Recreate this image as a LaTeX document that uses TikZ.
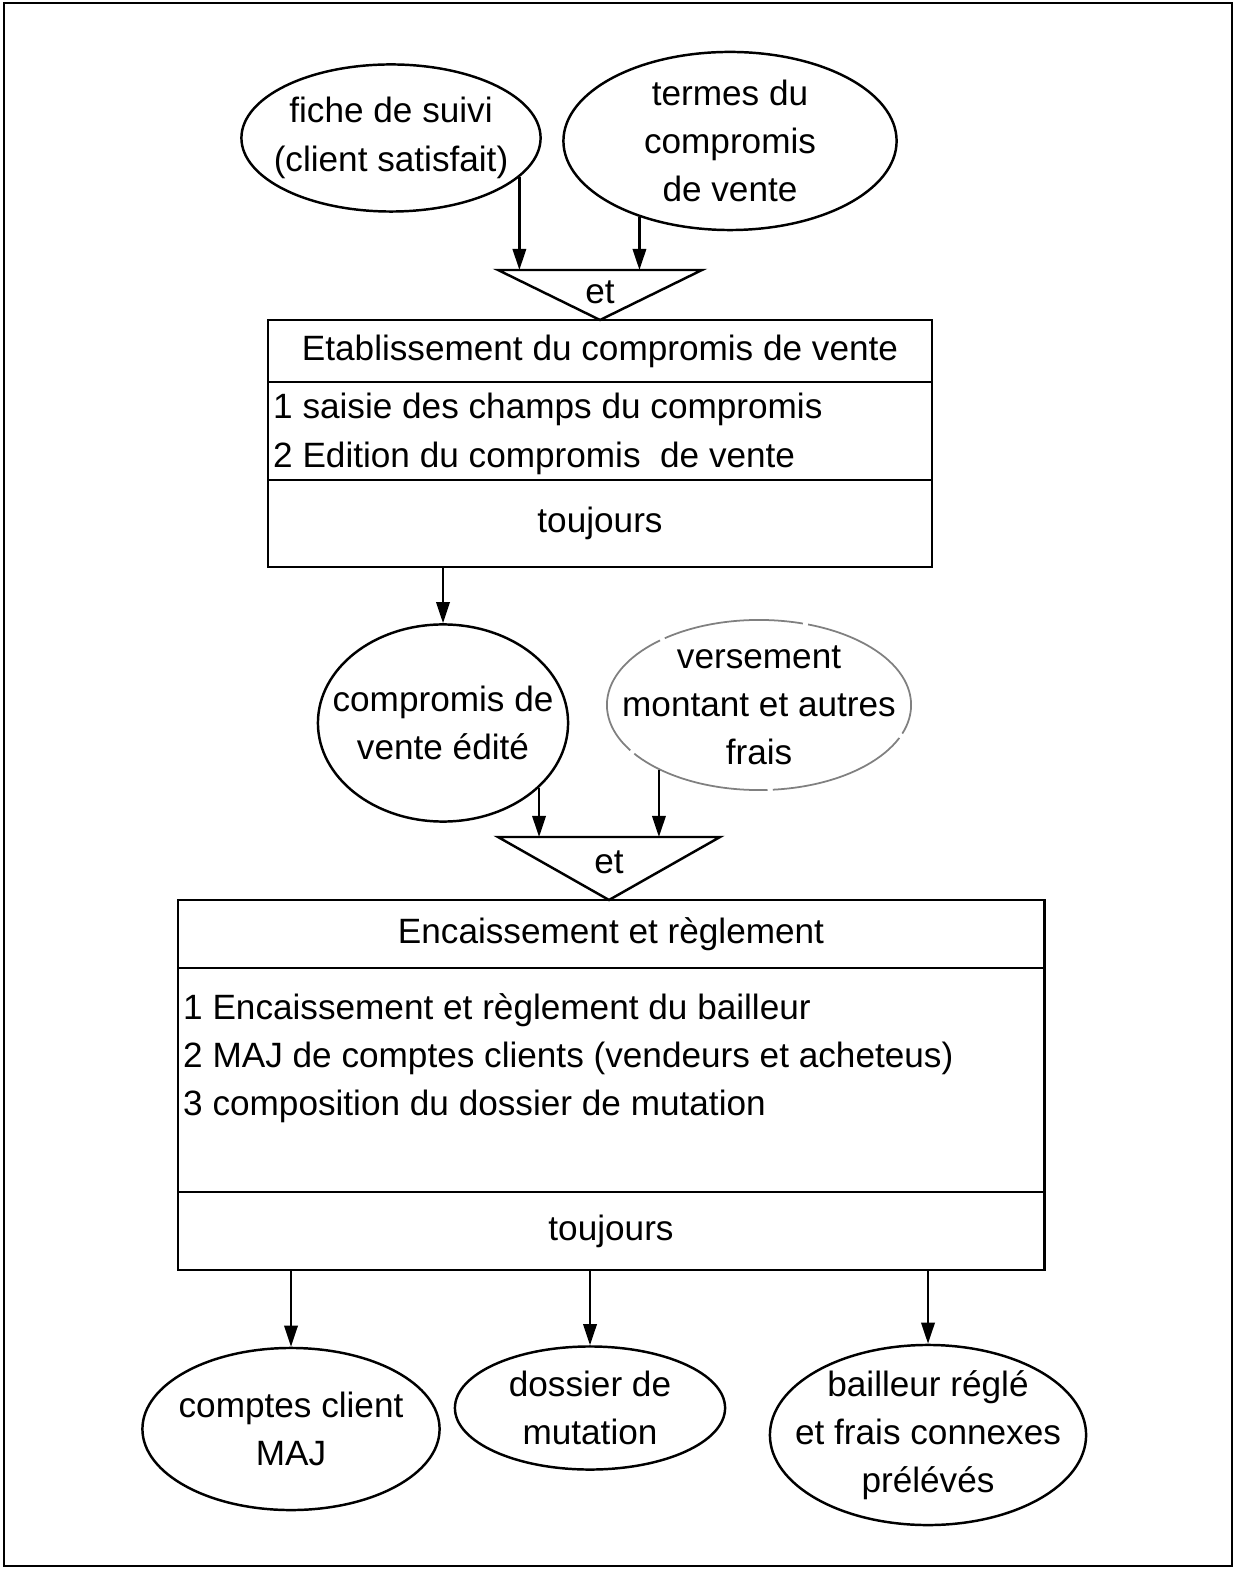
\documentclass[tikz,border=0pt]{standalone}
\usepackage{fontspec}
\setmainfont{Liberation Sans}
\usepackage{tikz}
\usetikzlibrary{shapes.geometric, arrows.meta, positioning}

\begin{document}
\begin{tikzpicture}[x=0.01cm, y=-0.01cm, line width=0.7pt,
    font=\fontsize{10}{13.7}\selectfont,
    data/.style={draw, ellipse, inner xsep=-0.3cm, inner ysep=-0.1cm, align=center},
    cell/.style={draw, rectangle, inner sep=0pt, outer sep=0pt},
    flow/.style={-{Triangle[length=6pt, width=3.8pt]}}]
  \useasboundingbox (0, 0) rectangle (1238, 1571);
  \draw (4, 3) rectangle (1232, 1566);

  % compromis de vente
  \node [data, minimum width=2.99cm, minimum height=1.47cm] (suivi) at (391, 138) {fiche de suivi\\(client satisfait)};
  \node [data, minimum width=3.33cm, minimum height=1.78cm] (termes) at (730, 141) {termes du\\compromis\\de vente};
  \coordinate (et1l) at (498, 270);
  \coordinate (et1r) at (702, 270);
  \coordinate (et1b) at (600, 320);
  \draw (et1l) -- (et1r) -- (et1b) -- cycle;
  \node (et1) at (600, 292) {et};
  \draw [flow] (suivi.-17) -- (suivi.-17 |- et1l);
  \draw [flow] (termes.-140) -- (termes.-140 |- et1l);

  \node [cell, minimum width=6.64cm, minimum height=0.62cm] (etab) at (600, 351) {Etablissement du compromis de vente};
  \node [cell, minimum width=6.64cm, minimum height=0.98cm, below=0pt of etab] (etabtasks) {};
  \node [anchor=west, inner sep=0pt, align=left] (etablist) at (272, 434) {1 saisie des champs du compromis\\2 Edition du compromis~ de vente};
  \node [cell, minimum width=6.64cm, minimum height=0.87cm, below=0pt of etabtasks] (etabrule) {toujours};

  % encaissement
  \node [data, minimum width=2.50cm, minimum height=1.97cm] (edite) at (443, 723) {compromis de\\vente édité};
  \node [data, draw=black!50, line width=0.5pt, dash pattern=on 40pt off 1.5pt, minimum width=3.04cm, minimum height=1.70cm] (versement) at (759, 705) {versement\\montant et autres\\frais};
  \draw [flow] (etabrule.south -| edite.north) -- (edite.north);
  \coordinate (et2l) at (498, 837);
  \coordinate (et2r) at (720, 837);
  \coordinate (et2b) at (609, 900);
  \draw (et2l) -- (et2r) -- (et2b) -- cycle;
  \node (et2) at (609, 862) {et};
  \draw [flow] (edite.-34) -- (edite.-34 |- et2l);
  \draw [flow] (versement.-147) -- (versement.-147 |- et2l);

  \node [cell, minimum width=8.66cm, minimum height=0.68cm] (encaiss) at (611, 934) {Encaissement et règlement};
  \node [cell, minimum width=8.66cm, minimum height=2.24cm, below=0pt of encaiss] (encaisstasks) {};
  \node [anchor=west, inner sep=0pt, align=left] (encaisslist) at (182, 1058) {1 Encaissement et règlement du bailleur\\2 MAJ de comptes clients (vendeurs et acheteus)\\3 composition du dossier de mutation};
  \node [cell, minimum width=8.66cm, minimum height=0.78cm, below=0pt of encaisstasks] (encaissrule) {toujours};

  % sorties
  \node [data, minimum width=2.97cm, minimum height=1.62cm] (comptes) at (291, 1429) {comptes client\\MAJ};
  \node [data, minimum width=2.70cm, minimum height=1.23cm] (dossier) at (590, 1408) {dossier de\\mutation};
  \node [data, minimum width=3.16cm, minimum height=1.80cm] (bailleur) at (928, 1435) {bailleur réglé\\et frais connexes\\prélévés};
  \draw [flow] (encaissrule.south -| comptes.north) -- (comptes.north);
  \draw [flow] (encaissrule.south -| dossier.north) -- (dossier.north);
  \draw [flow] (encaissrule.south -| bailleur.north) -- (bailleur.north);
\end{tikzpicture}
\end{document}
